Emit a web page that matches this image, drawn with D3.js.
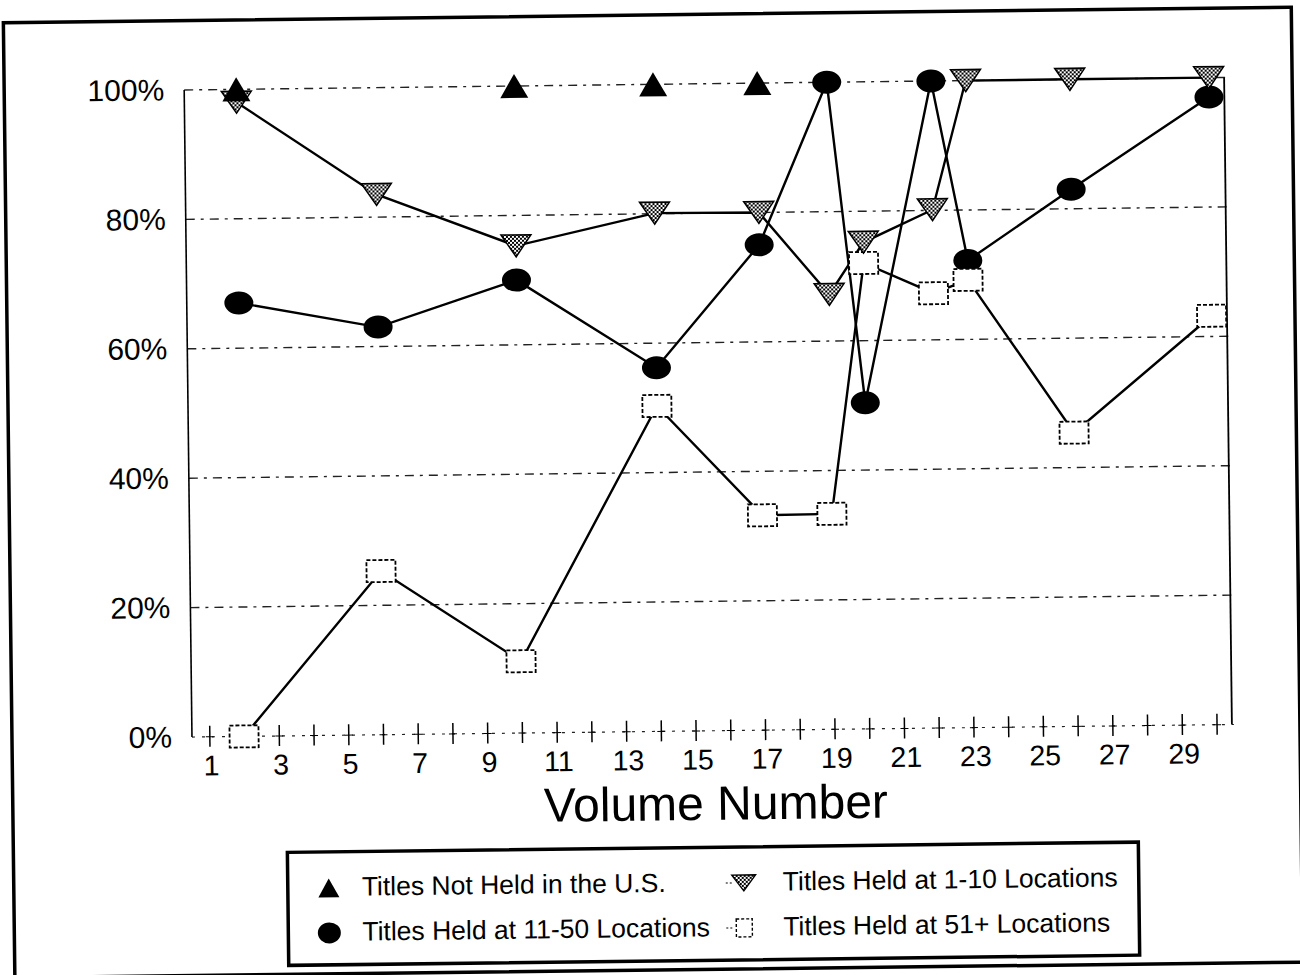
<!DOCTYPE html>
<html><head><meta charset="utf-8">
<script src="https://cdn.jsdelivr.net/npm/d3@7"></script>
<style>html,body{margin:0;padding:0;background:#fff;} svg{display:block;font-family:"Liberation Sans",Arial,sans-serif;}</style>
</head><body><svg id="chart" width="1300" height="975"></svg>
<script>
// ---- data ----
const volumes     = [2, 6, 10, 14, 17, 19, 20, 22, 23, 26, 30];
const notHeldUS   = [100, null, 100, 100, 100, null, null, null, null, null, null];
const held1to10   = [98, 83.5, 75.3, 80.1, 80, 67.2, 75.2, 80.1, 100, 100, 100];
const held11to50  = [67, 63, 70, 56.2, 75, 100, 50.4, 100, 72.2, 83, 97];
const held51plus  = [0, 25.3, 11.1, 50.3, 33.2, 33.3, 72, 67.2, 69.2, 45.4, 63.2];
const yTickValues = [0, 20, 40, 60, 80, 100];
const xTickValues = d3.range(1, 31);
const xTickLabels = [1, 3, 5, 7, 9, 11, 13, 15, 17, 19, 21, 23, 25, 27, 29];
const xTitle = "Volume Number";
const legendLabels = ["Titles Not Held in the U.S.", "Titles Held at 1-10 Locations",
                      "Titles Held at 11-50 Locations", "Titles Held at 51+ Locations"];

// ---- setup ----
const svg = d3.select("#chart");
const defs = svg.append("defs");
const pat = defs.append("pattern").attr("id", "check").attr("patternUnits", "userSpaceOnUse")
  .attr("width", 4).attr("height", 4);
pat.append("rect").attr("width", 4).attr("height", 4).attr("fill", "#fff");
pat.append("rect").attr("width", 2).attr("height", 2).attr("fill", "#000");
pat.append("rect").attr("x", 2).attr("y", 2).attr("width", 2).attr("height", 2).attr("fill", "#000");

// whole page is slightly rotated like the scanned original
const root = svg.append("g").attr("transform", "rotate(-0.69,650,487)");

// outer frame
root.append("rect").attr("x", 9).attr("y", 15).attr("width", 1288).attr("height", 955)
  .attr("fill", "none").attr("stroke", "#000").attr("stroke-width", 3.5);

const x = d3.scaleLinear().domain([0.5, 30.5]).range([189, 1231]);
const y = d3.scaleLinear().domain([0, 100]).range([731.5, 84.4]);

// gridlines
root.append("g").selectAll("line").data(yTickValues.filter(d => d > 0)).join("line")
  .attr("x1", x(0.5)).attr("x2", x(30.5)).attr("y1", d => y(d)).attr("y2", d => y(d))
  .attr("stroke", "#222").attr("stroke-width", 1.4).attr("stroke-dasharray", "9,6,3,6");

// baseline (dotted) with tick crosses
root.append("line").attr("x1", x(0.5)).attr("x2", x(30.5)).attr("y1", y(0)).attr("y2", y(0))
  .attr("stroke", "#222").attr("stroke-width", 1.2).attr("stroke-dasharray", "3,7");
const xAxis = d3.axisBottom(x).tickValues(xTickValues).tickSize(0).tickFormat("");
const xg = root.append("g").attr("transform", `translate(0,${y(0)})`).call(xAxis);
xg.select(".domain").remove();
xg.selectAll(".tick").append("line").attr("y1", -11).attr("y2", 10)
  .attr("stroke", "#000").attr("stroke-width", 1.5);
xg.selectAll(".tick").append("line").attr("x1", -4).attr("x2", 4)
  .attr("stroke", "#000").attr("stroke-width", 1);

// x tick labels
root.append("g").selectAll("text").data(xTickLabels).join("text")
  .attr("x", d => x(d) + 2).attr("y", 760).attr("text-anchor", "middle")
  .attr("dominant-baseline", "central").attr("font-size", 28.5).attr("fill", "#000").text(d => d);

// y axis labels
const yAxis = d3.axisLeft(y).tickValues(yTickValues).tickSize(0).tickPadding(20)
  .tickFormat(d => d + "%");
const yg = root.append("g").attr("transform", `translate(${x(0.5)},0)`).call(yAxis);
yg.select(".domain").remove();
yg.selectAll("text").attr("font-size", 30).attr("fill", "#000")
  .attr("font-family", '"Liberation Sans",Arial,sans-serif');

// left and right axis lines
root.append("line").attr("x1", x(0.5)).attr("x2", x(0.5)).attr("y1", y(100)).attr("y2", y(0))
  .attr("stroke", "#000").attr("stroke-width", 1.6);
root.append("line").attr("x1", x(30.5) - 2).attr("x2", x(30.5) - 2).attr("y1", y(100)).attr("y2", y(0))
  .attr("stroke", "#000").attr("stroke-width", 1.8);

// axis title
root.append("text").attr("x", 712).attr("y", 804).attr("text-anchor", "middle")
  .attr("dominant-baseline", "central").attr("font-size", 48).attr("fill", "#000").text(xTitle);

// ---- series ----
function pts(arr) { return volumes.map((v, i) => ({v, val: arr[i]})).filter(d => d.val != null); }
const line = d3.line().x(d => x(d.v)).y(d => y(d.val));

[held11to50, held51plus, held1to10].forEach(arr => {
  root.append("path").datum(pts(arr)).attr("d", line).attr("fill", "none")
    .attr("stroke", "#000").attr("stroke-width", 2.4);
});

const upTri = (w, h) => `M0,${-h/2}L${w/2},${h/2}L${-w/2},${h/2}Z`;
const downTri = (w, h) => `M${-w/2},${-h/2}L${w/2},${-h/2}L0,${h/2}Z`;

// 11-50: black ellipses
root.append("g").selectAll("ellipse").data(pts(held11to50)).join("ellipse")
  .attr("cx", d => x(d.v)).attr("cy", d => y(d.val)).attr("rx", 14.5).attr("ry", 11.5)
  .attr("fill", "#000");
// 51+: white squares, dotted outline
root.append("g").selectAll("rect").data(pts(held51plus)).join("rect")
  .attr("x", d => x(d.v) - 14.5).attr("y", d => y(d.val) - 11).attr("width", 29).attr("height", 22)
  .attr("fill", "#fff").attr("stroke", "#000").attr("stroke-width", 1.8).attr("stroke-dasharray", "4,2");
// 1-10: checkered inverted triangles
root.append("g").selectAll("path").data(pts(held1to10)).join("path")
  .attr("transform", d => `translate(${x(d.v)},${y(d.val)})`).attr("d", downTri(30, 22))
  .attr("fill", "url(#check)").attr("stroke", "#000").attr("stroke-width", 1.5);
// not held: black triangles
root.append("g").selectAll("path").data(pts(notHeldUS)).join("path")
  .attr("transform", d => `translate(${x(d.v)},${y(d.val)})`).attr("d", upTri(28, 24))
  .attr("fill", "#000");

// ---- legend ----
const lg = root.append("g");
lg.append("rect").attr("x", 283).attr("y", 848).attr("width", 851).attr("height", 113)
  .attr("fill", "#fff").attr("stroke", "#000").attr("stroke-width", 3.5);
const legendPos = [[324, 884], [739, 884], [324, 929], [739, 929]];
lg.selectAll("text").data(legendLabels).join("text")
  .attr("x", (d, i) => legendPos[i][0] + (i % 2 ? 39 : 33)).attr("y", (d, i) => legendPos[i][1] - 1)
  .attr("dominant-baseline", "central").attr("font-size", 26.5).attr("fill", "#000").text(d => d);
lg.append("path").attr("transform", `translate(${legendPos[0][0]},${legendPos[0][1]})`)
  .attr("d", upTri(21, 19)).attr("fill", "#000");
lg.append("path").attr("transform", `translate(${legendPos[1][0]},${legendPos[1][1]})`)
  .attr("d", downTri(24, 16)).attr("fill", "url(#check)").attr("stroke", "#000").attr("stroke-width", 1.3);
lg.append("ellipse").attr("cx", legendPos[2][0]).attr("cy", legendPos[2][1]).attr("rx", 11.5).attr("ry", 10.5)
  .attr("fill", "#000");
lg.append("rect").attr("x", legendPos[3][0] - 8).attr("y", legendPos[3][1] - 9).attr("width", 16).attr("height", 18)
  .attr("fill", "#fff").attr("stroke", "#000").attr("stroke-width", 1.4).attr("stroke-dasharray", "3,2");
[1, 3].forEach(i => {
  lg.append("line").attr("x1", legendPos[i][0] - 18).attr("x2", legendPos[i][0] - 12)
    .attr("y1", legendPos[i][1]).attr("y2", legendPos[i][1])
    .attr("stroke", "#000").attr("stroke-width", 1).attr("stroke-dasharray", "2,2");
});
</script></body></html>
